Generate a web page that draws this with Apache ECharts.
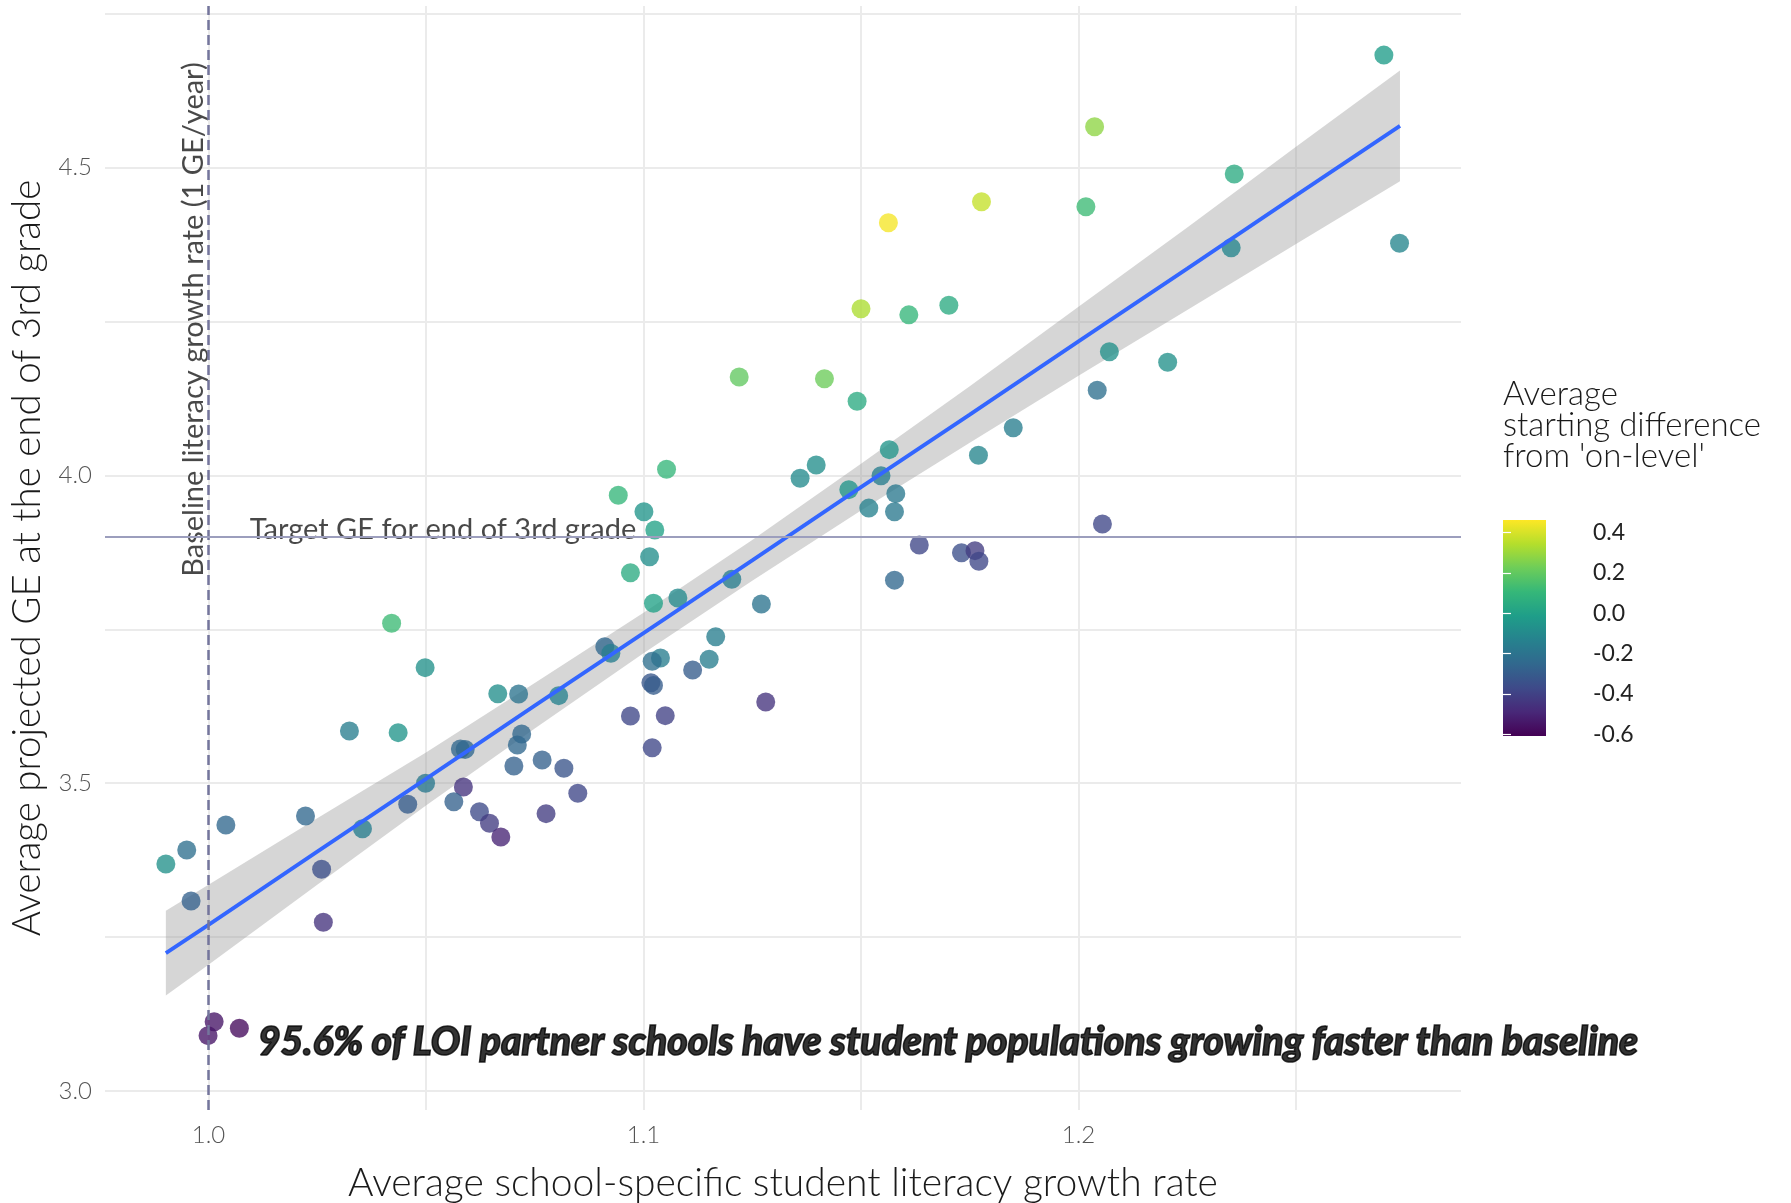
<!DOCTYPE html>
<html>
<head>
<meta charset="utf-8">
<script src="https://cdn.jsdelivr.net/npm/echarts@6/dist/echarts.min.js"></script>
<style>
  html, body { margin: 0; padding: 0; background: #ffffff; }
  #chart { width: 1791px; height: 1203px; }
</style>
</head>
<body>
<div id="chart"></div>
<script>
// ---- data ----
const growthRate = [
  1.1563, 1.1777, 1.1500, 1.1610, 1.1702, 1.1220, 1.1416, 1.1491, 1.1565, 1.1397,
  1.1360, 1.1546, 1.1472, 1.1580, 1.1518, 1.1577, 1.1770, 1.0942, 1.1001, 1.1053,
  1.1026, 1.2702, 1.2037, 1.2358, 1.2017, 1.2351, 1.2738, 1.2071, 1.2205, 1.2043,
  1.1850, 1.2055, 1.0421, 1.0498, 1.0324, 1.0436, 1.0665, 1.0713, 1.0805, 1.0720,
  1.0710, 1.0579, 1.0590, 1.0702, 1.0767, 1.0817, 1.0849, 1.0499, 1.0586, 1.0458,
  1.0564, 1.0623, 1.0646, 1.0672, 1.0776, 1.0223, 1.0354, 1.0260, 1.0264, 1.0040,
  0.9950, 0.9902, 0.9960, 1.0013, 0.9999, 1.0071, 1.1014, 1.0970, 1.1023, 1.1079,
  1.1203, 1.1271, 1.0911, 1.0925, 1.1166, 1.1039, 1.1020, 1.1151, 1.1113, 1.1017,
  1.1023, 1.1281, 1.0970, 1.1050, 1.1020, 1.1577, 1.1634, 1.1731, 1.1762, 1.1771
];
const projectedGE = [
  4.4107, 4.4449, 4.2710, 4.2610, 4.2766, 4.1600, 4.1573, 4.1205, 4.0420, 4.0170,
  3.9954, 3.9997, 3.9770, 3.9705, 3.9470, 3.9412, 4.0330, 3.9680, 3.9410, 4.0100,
  3.9115, 4.6830, 4.5667, 4.4898, 4.4367, 4.3700, 4.3772, 4.2012, 4.1839, 4.1384,
  4.0777, 3.9212, 3.7599, 3.6878, 3.5849, 3.5822, 3.6455, 3.6450, 3.6423, 3.5800,
  3.5621, 3.5557, 3.5550, 3.5280, 3.5378, 3.5243, 3.4837, 3.4999, 3.4939, 3.4658,
  3.4700, 3.4538, 3.4349, 3.4127, 3.4506, 3.4468, 3.4262, 3.3602, 3.2741, 3.4322,
  3.3916, 3.3688, 3.3087, 3.1126, 3.0899, 3.1018, 3.8680, 3.8420, 3.7924, 3.8010,
  3.8313, 3.7912, 3.7219, 3.7111, 3.7381, 3.7035, 3.6981, 3.7014, 3.6840, 3.6634,
  3.6590, 3.6320, 3.6093, 3.6098, 3.5577, 3.8300, 3.8870, 3.8746, 3.8779, 3.8606
];
const startDiff = [
  0.45, 0.37, 0.33, 0.10, 0.05, 0.20, 0.22, 0.05, -0.05, -0.08,
  -0.10, -0.15, -0.05, -0.18, -0.13, -0.18, -0.12, 0.10, -0.05, 0.10,
  0.00, -0.02, 0.28, 0.05, 0.12, -0.12, -0.12, -0.07, -0.07, -0.22,
  -0.15, -0.38, 0.12, -0.07, -0.15, -0.05, -0.08, -0.20, -0.13, -0.25,
  -0.25, -0.25, -0.25, -0.28, -0.28, -0.33, -0.38, -0.18, -0.45, -0.30,
  -0.28, -0.37, -0.42, -0.50, -0.42, -0.25, -0.15, -0.35, -0.45, -0.25,
  -0.22, -0.07, -0.28, -0.55, -0.55, -0.58, -0.08, 0.05, 0.00, -0.10,
  -0.15, -0.20, -0.25, -0.15, -0.15, -0.15, -0.22, -0.15, -0.30, -0.32,
  -0.30, -0.45, -0.38, -0.40, -0.38, -0.25, -0.38, -0.35, -0.42, -0.38
];

// linear fit and its confidence band
const fitX    = [0.9902, 1.000, 1.025, 1.050, 1.075, 1.100, 1.125, 1.150, 1.175, 1.200, 1.225, 1.250, 1.2739];
const fitY    = [3.224, 3.270, 3.389, 3.507, 3.626, 3.744, 3.862, 3.981, 4.099, 4.218, 4.336, 4.455, 4.568];
const ciLower = [3.155, 3.205, 3.335, 3.464, 3.589, 3.711, 3.829, 3.943, 4.053, 4.162, 4.269, 4.376, 4.478];
const ciUpper = [3.293, 3.335, 3.443, 3.550, 3.663, 3.777, 3.895, 4.019, 4.145, 4.274, 4.403, 4.534, 4.658];

// reference lines
const baselineRate = 1.0;
const targetGE = 3.9;

// tick values
const xMajorTicks = [1.0, 1.1, 1.2];
const xGridTicks = [1.0, 1.05, 1.1, 1.15, 1.2, 1.25];
const yMajorTicks = [3.0, 3.5, 4.0, 4.5];
const yGridTicks = [3.0, 3.25, 3.5, 3.75, 4.0, 4.25, 4.5, 4.75];
const legendTicks = [-0.6, -0.4, -0.2, 0.0, 0.2, 0.4];

// colour scale
const viridisColors = ['#440154', '#482878', '#3E4A89', '#31688E', '#26828E',
                       '#1F9E89', '#35B779', '#6DCD59', '#B4DE2C', '#FDE725'];
const colorMin = -0.608, colorMax = 0.463;

// texts
const xTitle = 'Average school-specific student literacy growth rate';
const yTitle = 'Average projected GE at the end of 3rd grade';
const baselineLabel = 'Baseline literacy growth rate (1 GE/year)';
const targetLabel = 'Target GE for end of 3rd grade';
const noteLabel = '95.6% of LOI partner schools have student populations growing faster than baseline';
const legendTitle = "Average\nstarting difference\nfrom 'on-level'";

const FONT = 'Lato, "Open Sans", sans-serif';

const chart = echarts.init(document.getElementById('chart'), null, { renderer: 'canvas' });

const scatterData = growthRate.map((x, i) => [x, projectedGE[i], startDiff[i]]);
const fitData = fitX.map((x, i) => [x, fitY[i]]);
const bandData = fitX.map((x, i) => [x, ciLower[i], ciUpper[i]]);

const option = {
  backgroundColor: '#ffffff',
  animation: false,
  textStyle: { fontFamily: FONT },
  title: {
    text: legendTitle,
    left: 1503, top: 379, padding: 0,
    textStyle: { fontFamily: FONT, fontSize: 33, lineHeight: 31, fontWeight: 300, color: '#1a1a1a' }
  },
  grid: [
    { left: 105, top: 6, width: 1356, height: 1104, containLabel: false, outerBoundsMode: 'none' },
    { left: 1503, top: 520, width: 43, height: 216, containLabel: false, outerBoundsMode: 'none' }
  ],
  xAxis: [
    {
      type: 'value', gridIndex: 0,
      min: 0.97621, max: 1.28793,
      name: xTitle, nameLocation: 'middle', nameGap: 54,
      nameTextStyle: { fontFamily: FONT, fontSize: 39, fontWeight: 300, color: '#1a1a1a' },
      axisLine: { show: false },
      axisTick: { show: false, customValues: xGridTicks },
      axisLabel: { customValues: xMajorTicks, formatter: v => v.toFixed(1), margin: 13,
                   fontFamily: FONT, fontSize: 24, fontWeight: 300, color: '#555555' },
      splitLine: { show: true, lineStyle: { color: '#ebebeb', width: 2 } }
    },
    {
      type: 'value', gridIndex: 1, min: 0, max: 1, show: false
    }
  ],
  yAxis: [
    {
      type: 'value', gridIndex: 0,
      min: 2.9691, max: 4.7628,
      name: yTitle, nameLocation: 'middle', nameGap: 58,
      nameTextStyle: { fontFamily: FONT, fontSize: 38.5, fontWeight: 300, color: '#1a1a1a' },
      axisLine: { show: false },
      axisTick: { show: false, customValues: yGridTicks },
      axisLabel: { customValues: yMajorTicks, formatter: v => v.toFixed(1), margin: 13,
                   fontFamily: FONT, fontSize: 24, fontWeight: 300, color: '#555555' },
      splitLine: { show: true, lineStyle: { color: '#ebebeb', width: 2 } }
    },
    {
      type: 'value', gridIndex: 1, position: 'right', z: 10,
      min: colorMin, max: colorMax,
      axisLine: { show: false },
      axisTick: { show: true, inside: true, length: 8, customValues: legendTicks,
                  lineStyle: { color: '#ffffff', width: 1.2 } },
      axisLabel: { customValues: legendTicks, formatter: v => v.toFixed(1), margin: 47,
                   fontFamily: FONT, fontSize: 23, color: '#222222' },
      splitLine: { show: false }
    },
    {
      type: 'value', gridIndex: 1, position: 'left', z: 10,
      min: colorMin, max: colorMax,
      axisLine: { show: false },
      axisTick: { show: true, inside: true, length: 8, customValues: legendTicks,
                  lineStyle: { color: '#ffffff', width: 1.2 } },
      axisLabel: { show: false },
      splitLine: { show: false }
    }
  ],
  visualMap: {
    show: false, type: 'continuous', seriesIndex: 1, dimension: 2,
    min: colorMin, max: colorMax,
    inRange: { color: viridisColors }
  },
  series: [
    {
      // reference lines
      type: 'line', xAxisIndex: 0, yAxisIndex: 0, data: [], silent: true,
      markLine: {
        silent: true, symbol: ['none', 'none'], animation: false,
        label: { show: false },
        data: [
          { xAxis: baselineRate, lineStyle: { color: '#74759c', width: 2.5, type: [10, 5] } },
          { yAxis: targetGE, lineStyle: { color: '#9c9ebd', width: 2.2, type: 'solid' } }
        ]
      }
    },
    {
      type: 'scatter', xAxisIndex: 0, yAxisIndex: 0,
      data: scatterData, symbolSize: 19,
      itemStyle: { opacity: 0.78 }
    },
    {
      type: 'custom', xAxisIndex: 0, yAxisIndex: 0, silent: true,
      data: bandData, encode: { x: 0, y: [1, 2] },
      renderItem: function (params, api) {
        if (params.dataIndex !== 0) return null;
        const pts = [];
        for (let i = 0; i < fitX.length; i++) pts.push(api.coord([fitX[i], ciUpper[i]]));
        for (let i = fitX.length - 1; i >= 0; i--) pts.push(api.coord([fitX[i], ciLower[i]]));
        return { type: 'polygon', shape: { points: pts }, style: { fill: 'rgba(153,153,153,0.4)' } };
      }
    },
    {
      type: 'line', xAxisIndex: 0, yAxisIndex: 0, silent: true,
      data: fitData, symbol: 'none',
      lineStyle: { color: '#3366FF', width: 3.8 }
    },
    {
      // text annotations
      type: 'scatter', xAxisIndex: 0, yAxisIndex: 0, silent: true,
      symbolSize: 0,
      data: [
        { value: [baselineRate, 4.2535],
          label: { show: true, formatter: baselineLabel, rotate: 90, position: [0, 0],
                   align: 'center', verticalAlign: 'bottom', offset: [0, 0],
                   fontFamily: FONT, fontSize: 29, fontWeight: 400, color: '#1a1a1a' } },
        { value: [1.0539, targetGE],
          label: { show: true, formatter: targetLabel, position: [0, 0],
                   align: 'center', verticalAlign: 'bottom', offset: [0, 7],
                   fontFamily: FONT, fontSize: 29, fontWeight: 400, color: '#1a1a1a' } },
        { value: [1.170, 3.0796],
          label: { show: true, formatter: noteLabel, position: [0, 0],
                   align: 'center', verticalAlign: 'middle',
                   fontFamily: FONT, fontSize: 39, fontWeight: 900, fontStyle: 'italic', color: '#000000',
                   textBorderColor: '#000000', textBorderWidth: 1.6 } }
      ]
    },
    {
      // colour bar
      type: 'custom', xAxisIndex: 1, yAxisIndex: 1, silent: true,
      data: [[0, colorMin, colorMax]], encode: { x: 0, y: [1, 2] },
      renderItem: function (params, api) {
        const tl = api.coord([0, colorMax]);
        const br = api.coord([1, colorMin]);
        const stops = viridisColors.map((c, i) => ({ offset: i / (viridisColors.length - 1), color: c }));
        return {
          type: 'rect',
          shape: { x: tl[0], y: tl[1], width: br[0] - tl[0], height: br[1] - tl[1] },
          style: { fill: new echarts.graphic.LinearGradient(0, 1, 0, 0, stops) }
        };
      }
    }
  ]
};

chart.setOption(option);
</script>
</body>
</html>
